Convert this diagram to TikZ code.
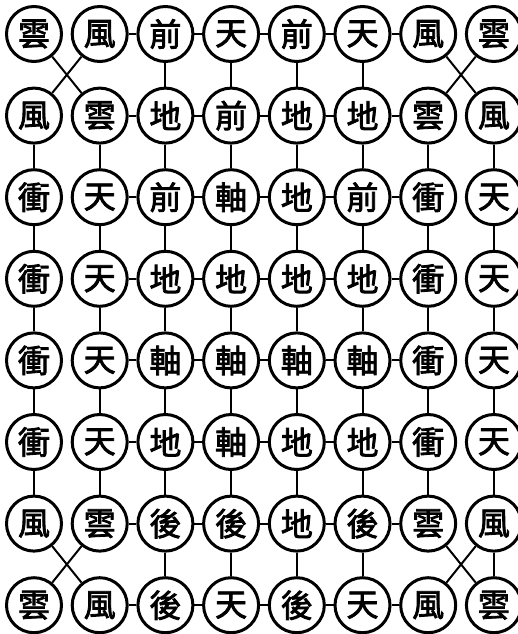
\documentclass[tikz,border=0pt]{standalone}
\usepackage{fontspec}
\newfontfamily\cjk{Noto Sans CJK TC}[AutoFakeBold=2.5]
\begin{document}
\begin{tikzpicture}[x=1pt,y=-1pt,
  stone/.style={circle,draw,line width=3pt,minimum size=55pt,inner sep=0pt,fill=white,
    font=\cjk\bfseries\fontsize{32}{32}\selectfont},
  link/.style={line width=2pt}]
\fill[white] (0,0) rectangle (518,634);
\useasboundingbox (0,0) rectangle (518,634);
\foreach \row [count=\r] in {
  {雲,風,前,天,前,天,風,雲},
  {風,雲,地,前,地,地,雲,風},
  {衝,天,前,軸,地,前,衝,天},
  {衝,天,地,地,地,地,衝,天},
  {衝,天,軸,軸,軸,軸,衝,天},
  {衝,天,地,軸,地,地,衝,天},
  {風,雲,後,後,地,後,雲,風},
  {雲,風,後,天,後,天,風,雲}}{
  \foreach \ch [count=\c] in \row {
    \node[stone] (n\r-\c) at ({34+(\c-1)*65.7},{34+(\r-1)*81.6}) {\ch};
  }
}
% horizontal links
\foreach \r in {1,...,8}{
  \foreach \c/\d in {2/3,3/4,4/5,5/6,6/7}{
    \draw[link] (n\r-\c) -- (n\r-\d);
  }
}
% vertical links
\foreach \c in {1,...,8}{
  \foreach \r/\s in {2/3,3/4,4/5,5/6,6/7}{
    \draw[link] (n\r-\c) -- (n\s-\c);
  }
}
\foreach \c in {3,...,6}{
  \draw[link] (n1-\c) -- (n2-\c);
  \draw[link] (n7-\c) -- (n8-\c);
}
\draw[link] (n7-8) -- (n8-8);
% diagonal links at the corners
\draw[link] (n1-1) -- (n2-2);
\draw[link] (n1-2) -- (n2-1);
\draw[link] (n1-7) -- (n2-8);
\draw[link] (n1-8) -- (n2-7);
\draw[link] (n7-1) -- (n8-2);
\draw[link] (n7-2) -- (n8-1);
\draw[link] (n7-7) -- (n8-8);
\draw[link] (n7-8) -- (n8-7);
\end{tikzpicture}
\end{document}
